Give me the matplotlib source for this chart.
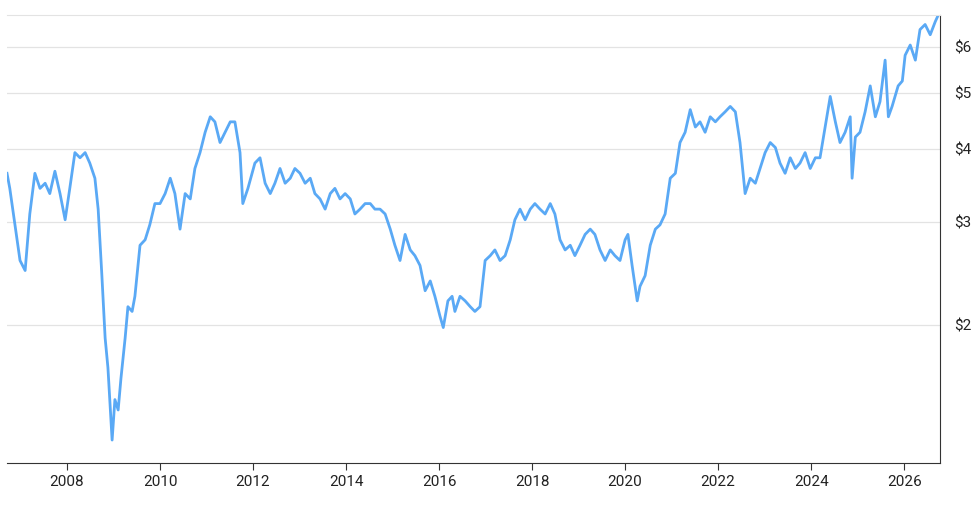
import matplotlib
matplotlib.use("Agg")
import matplotlib.pyplot as plt
from matplotlib.ticker import FixedLocator, NullLocator

years = [2006.71,2006.77,2006.99,2007.10,2007.20,2007.31,2007.42,2007.53,2007.63,2007.74,2007.85,2007.96,
2008.06,2008.17,2008.28,2008.39,2008.49,2008.60,2008.67,2008.75,2008.82,2008.88,2008.92,2008.97,
2009.03,2009.10,2009.16,2009.25,2009.31,2009.40,2009.46,2009.57,2009.68,2009.78,2009.89,
2010.00,2010.11,2010.22,2010.32,2010.43,2010.54,2010.65,2010.75,2010.86,2010.97,
2011.08,2011.18,2011.29,2011.40,2011.51,2011.61,2011.72,2011.78,2011.89,
2012.04,2012.15,2012.26,2012.37,2012.47,2012.58,2012.69,2012.80,2012.90,
2013.01,2013.12,2013.23,2013.33,2013.44,2013.55,2013.66,2013.76,2013.87,2013.98,
2014.09,2014.19,2014.30,2014.41,2014.52,2014.62,2014.73,2014.84,2014.95,
2015.05,2015.16,2015.27,2015.38,2015.48,2015.59,2015.70,2015.81,2015.91,
2016.02,2016.09,2016.19,2016.28,2016.34,2016.45,2016.56,2016.67,2016.77,2016.88,2016.99,
2017.10,2017.20,2017.31,2017.42,2017.53,2017.63,2017.74,2017.85,2017.96,
2018.06,2018.17,2018.28,2018.39,2018.49,2018.60,2018.71,2018.82,2018.92,
2019.03,2019.14,2019.25,2019.35,2019.46,2019.57,2019.68,2019.78,2019.89,
2020.00,2020.06,2020.15,2020.26,2020.32,2020.43,2020.54,2020.65,2020.75,2020.86,2020.97,
2021.08,2021.18,2021.29,2021.40,2021.51,2021.61,2021.72,2021.83,2021.94,
2022.04,2022.15,2022.26,2022.37,2022.47,2022.58,2022.69,2022.80,2022.90,
2023.01,2023.12,2023.23,2023.33,2023.44,2023.55,2023.66,2023.76,2023.87,2023.98,
2024.09,2024.19,2024.30,2024.41,2024.52,2024.62,2024.73,2024.84,2024.88,2024.95,
2025.05,2025.16,2025.27,2025.38,2025.48,2025.59,2025.66,2025.74,2025.87,2025.96,
2026.02,2026.13,2026.24,2026.34,2026.45,2026.56,2026.67,2026.77]

prices = [3.64,3.43,2.58,2.48,3.10,3.64,3.43,3.50,3.36,3.67,3.36,3.03,
3.43,3.95,3.87,3.95,3.79,3.57,3.16,2.43,1.90,1.69,1.49,1.27,
1.49,1.43,1.62,1.90,2.15,2.11,2.24,2.74,2.80,2.97,3.23,
3.23,3.36,3.57,3.36,2.92,3.36,3.29,3.71,3.95,4.28,
4.55,4.46,4.11,4.28,4.46,4.46,3.95,3.23,3.43,
3.79,3.87,3.50,3.36,3.50,3.71,3.50,3.57,3.71,
3.64,3.50,3.57,3.36,3.29,3.16,3.36,3.43,3.29,3.36,
3.29,3.10,3.16,3.23,3.23,3.16,3.16,3.10,2.92,
2.74,2.58,2.86,2.69,2.63,2.53,2.29,2.38,2.24,
2.07,1.98,2.20,2.24,2.11,2.24,2.20,2.15,2.11,2.15,2.58,
2.63,2.69,2.58,2.63,2.80,3.03,3.16,3.03,3.16,
3.23,3.16,3.10,3.23,3.10,2.80,2.69,2.74,2.63,
2.74,2.86,2.92,2.86,2.69,2.58,2.69,2.63,2.58,
2.80,2.86,2.53,2.20,2.33,2.43,2.74,2.92,2.97,3.10,3.57,
3.64,4.11,4.28,4.68,4.37,4.46,4.28,4.55,4.46,
4.55,4.64,4.74,4.64,4.11,3.36,3.57,3.50,3.71,
3.95,4.11,4.03,3.79,3.64,3.87,3.71,3.79,3.95,3.71,
3.87,3.87,4.37,4.93,4.46,4.11,4.28,4.55,3.57,4.20,
4.28,4.64,5.14,4.55,4.83,5.69,4.55,4.74,5.14,5.24,
5.80,6.04,5.69,6.42,6.55,6.29,6.63,6.90]

xticks = [2008, 2010, 2012, 2014, 2016, 2018, 2020, 2022, 2024, 2026]
yticks = [2, 3, 4, 5, 6]
ylabels = ["$2", "$3", "$4", "$5", "$6"]

plt.rcParams['font.family'] = ['Roboto', 'DejaVu Sans']
fig = plt.figure(figsize=(9.8, 5.13), dpi=100)
ax = fig.add_axes([7/980, 50/513, 933/980, 448/513])
ax.plot(years, prices, color="#5aa9f5", lw=2, solid_joinstyle='round')
ax.set_yscale('log')
ax.set_xlim(2006.71, 2026.77)
ax.set_ylim(1.16, 6.8)
ax.yaxis.set_major_locator(FixedLocator(yticks))
ax.yaxis.set_minor_locator(NullLocator())
ax.set_yticklabels(ylabels)
ax.set_xticks(xticks)
ax.set_xticklabels([str(t) for t in xticks])
ax.yaxis.tick_right()
ax.grid(axis='y', color="#e3e3e3", lw=0.9)
ax.set_axisbelow(True)
for s in ['left']:
    ax.spines[s].set_visible(False)
ax.spines['top'].set_color("#e3e3e3")
ax.spines['right'].set_color("#333333")
ax.spines['bottom'].set_color("#333333")
ax.tick_params(axis='y', length=0, pad=10, labelsize=11, colors="#222222")
ax.tick_params(axis='x', length=5, color="#333333", labelsize=11, labelcolor="#222222")
fig.savefig("out.png", dpi=100, facecolor="white")
